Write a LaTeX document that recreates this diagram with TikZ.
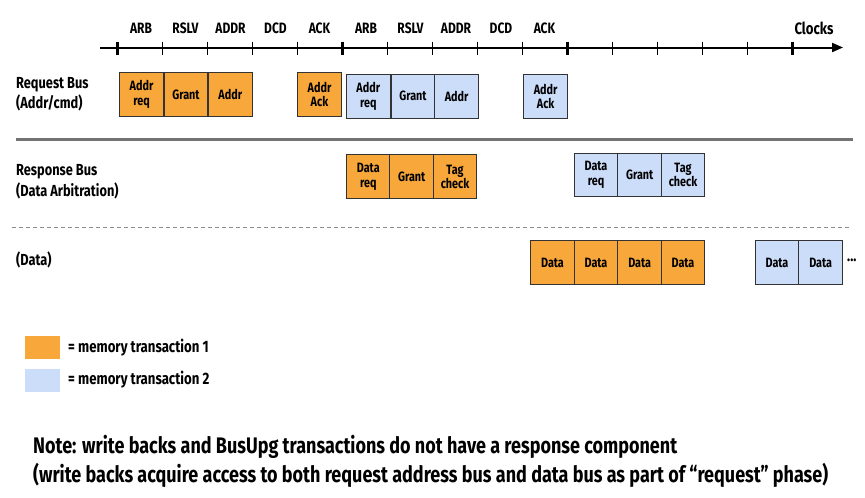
\documentclass[tikz,border=0pt]{standalone}
\usepackage{fontspec}
\setmainfont{Fira Sans}[FakeStretch=0.8]
\usetikzlibrary{arrows.meta}
\definecolor{tone}{HTML}{F8A73A}
\definecolor{ttwo}{HTML}{CCDDFA}
\definecolor{bordr}{HTML}{333333}
\tikzset{
  cell/.style={draw=bordr, line width=1pt, minimum width=43.5pt, minimum height=43.5pt, inner sep=0pt, align=center, font=\bfseries\fontsize{13.5}{14.5}\selectfont},
  one/.style={cell, fill=tone},
  two/.style={cell, fill=ttwo},
  clk/.style={font=\bfseries\fontsize{15}{16}\selectfont},
  lbl/.style={anchor=west, font=\bfseries\fontsize{16}{18}\selectfont, inner sep=0pt},
  thintick/.style={line width=1pt},
  thicktick/.style={line width=3pt},
}
\begin{document}
\begin{tikzpicture}[x=1pt,y=-1pt]
\useasboundingbox (0,0) rectangle (865,498);
% axis
\coordinate (ax0) at (100,47.5);
\coordinate (ax1) at (843,47.5);
\draw[line width=2pt, -{Triangle[length=11pt,width=9pt]}] (ax0) -- (ax1);
\foreach \k in {0,...,15}{
  \pgfmathsetmacro{\xx}{117+45*\k}
  \ifnum\k=0 \draw[thicktick] (\xx,41.5) -- (\xx,55);
  \else\ifnum\k=5 \draw[thicktick] (\xx,41.5) -- (\xx,55);
  \else\ifnum\k=10 \draw[thicktick] (\xx,41.5) -- (\xx,55);
  \else\ifnum\k=15 \draw[thicktick] (\xx,41.5) -- (\xx,55);
  \else \draw[thintick] (\xx,41.5) -- (\xx,55);
  \fi\fi\fi\fi
}
\node[clk] (c1) at (141,28) {ARB};
\node[clk] (c2) at (185.5,28) {RSLV};
\node[clk] (c3) at (230.5,28) {ADDR};
\node[clk] (c4) at (275.5,28) {DCD};
\node[clk] (c5) at (319.5,28) {ACK};
\node[clk] (c6) at (366,28) {ARB};
\node[clk] (c7) at (410.5,28) {RSLV};
\node[clk] (c8) at (456,28) {ADDR};
\node[clk] (c9) at (501,28) {DCD};
\node[clk] (c10) at (544.5,28) {ACK};
\node[font=\bfseries\fontsize{16.5}{18}\selectfont] (clocks) at (814,28) {Clocks};
% row labels
\node[lbl] (rq1) at (16,85) {Request Bus};
\node[lbl] (rq2) at (16,103) {(Addr/cmd)};
\node[lbl] (rs1) at (16,172) {Response Bus};
\node[lbl] (rs2) at (16,191) {(Data Arbitration)};
\node[lbl] (dt) at (16,260) {(Data)};
% separators
\draw[line width=2.5pt, draw=black!55] (16,139.5) -- (853,139.5);
\draw[line width=1pt, draw=black!45, dash pattern=on 4pt off 3pt] (12,227) -- (850,227);
% request bus
\node[one] (a1) at (141.5,94.5) {Addr\\req};
\node[one] (a2) at (186,94.5) {Grant};
\node[one] (a3) at (230.3,94.5) {Addr};
\node[one] (a4) at (319.5,94.5) {Addr\\Ack};
\node[two] (b1) at (368.3,96.3) {Addr\\req};
\node[two] (b2) at (413,96.3) {Grant};
\node[two] (b3) at (456.7,96.3) {Addr};
\node[two] (b4) at (545.7,96.3) {Addr\\Ack};
% response bus
\node[one] (r1) at (368.3,176.7) {Data\\req};
\node[one] (r2) at (411.7,176.7) {Grant};
\node[one] (r3) at (455,176.7) {Tag\\check};
\node[two] (s1) at (596,175) {Data\\req};
\node[two] (s2) at (639.7,175) {Grant};
\node[two] (s3) at (683,175) {Tag\\check};
% data
\node[one] (d1) at (552.5,262.7) {Data};
\node[one] (d2) at (596,262.7) {Data};
\node[one] (d3) at (639.7,262.7) {Data};
\node[one] (d4) at (683,262.7) {Data};
\node[two] (e1) at (777,262.7) {Data};
\node[two] (e2) at (820.7,262.7) {Data};
\node[font=\bfseries\fontsize{16}{16}\selectfont, anchor=west, inner sep=0pt] (dots) at (847,260) {...};
% legend
\fill[tone] (24.5,336) rectangle (60,358.5);
\fill[ttwo] (24.5,368.5) rectangle (60,391.5);
\node[lbl, font=\bfseries\fontsize{16.5}{18}\selectfont] (l1) at (68,347.5) {= memory transaction 1};
\node[lbl, font=\bfseries\fontsize{16.5}{18}\selectfont] (l2) at (68,380) {= memory transaction 2};
% note
\node[lbl, font=\bfseries\fontsize{22.5}{26}\selectfont] (n1) at (33,447) {Note: write backs and BusUpg transactions do not have a response component};
\node[lbl, font=\bfseries\fontsize{22.5}{26}\selectfont] (n2) at (33,475) {(write backs acquire access to both request address bus and data bus as part of “request” phase)};
\end{tikzpicture}
\end{document}
